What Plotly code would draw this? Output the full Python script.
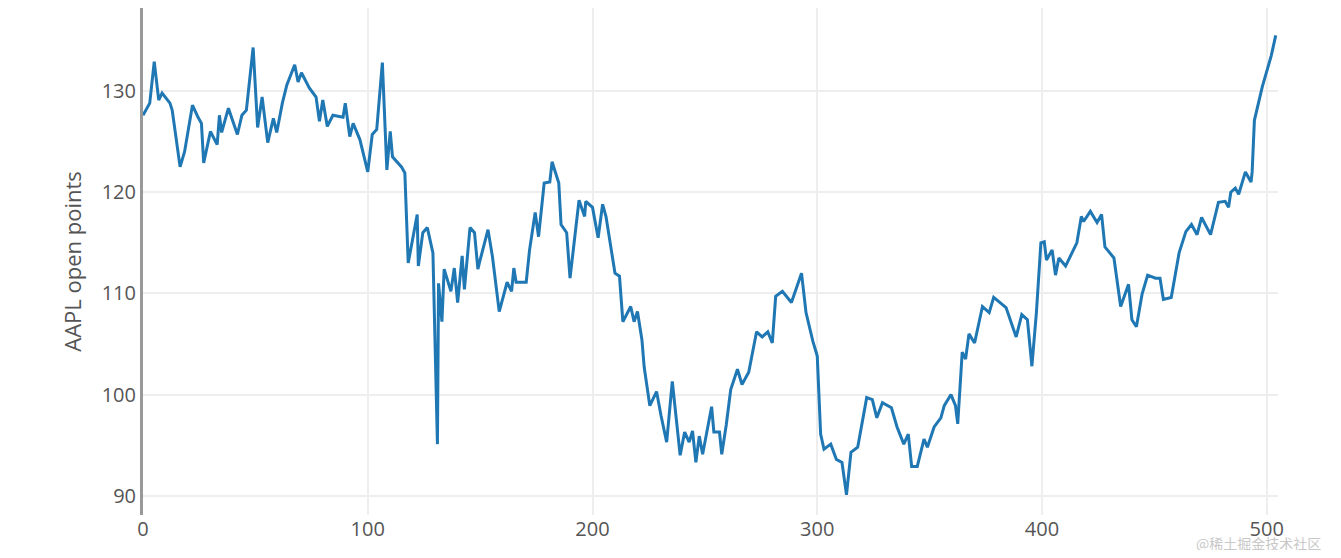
import plotly.graph_objects as go

# day index and AAPL open value
day = [0, 3, 5, 7, 8.5, 12, 13, 16.5, 18.5, 22, 24.5, 26, 27, 28.5, 30, 33, 34, 35, 38, 42,
       44, 46, 49, 51, 53, 55.5, 58, 59.5, 62, 64, 67.5, 69, 70.5, 74, 77, 78.5, 80, 82, 84.5, 89,
       90, 92, 93.5, 96.5, 100, 102, 104, 106.5, 108.5, 110, 111, 115, 116.5, 118, 122, 122.5, 124.5, 126.5, 129, 131,
       131.5, 133, 134, 137, 138.5, 140, 142, 143, 145.5, 147.5, 149, 150, 153.5, 155.5, 158.5, 162, 164, 165, 166, 170.5,
       172, 174.5, 176, 178.5, 181, 182, 185, 186, 188.5, 190, 194, 196.5, 197, 200, 202.5, 204.5, 206, 210, 212, 213.5,
       217, 218.5, 220, 222, 223, 225.5, 228.5, 230.5, 233, 235.5, 239, 241, 243, 244.5, 246, 247.5, 249, 253, 254, 256.5,
       257.5, 259.5, 261.5, 264.5, 266.5, 269.5, 273, 275.5, 278, 280, 281.5, 284.5, 288.5, 293, 295, 298, 300, 301.5, 303, 306,
       308.5, 311, 313, 315, 318, 322, 324.5, 326.5, 329, 333, 335.5, 338.5, 340.5, 342, 344.5, 347.5, 349, 352, 355, 356.5,
       359.5, 361.5, 362.5, 364.5, 366, 367.5, 370, 373.5, 376.5, 378.5, 384, 388.5, 391, 393.5, 395.5, 397.5, 399.5, 401, 402, 404.5,
       406, 407.5, 410.5, 415.5, 417.5, 418.5, 421.5, 424.5, 426.5, 428, 432, 435, 437.5, 438.5, 440, 442, 444.5, 447, 450.5, 452.5,
       454, 457.5, 461, 464, 466.5, 469, 471, 475, 478.5, 481.5, 483, 484, 486, 487.5, 490.5, 493, 493.5, 494.5, 498, 499.5,
       502, 504]
open_price = [127.6, 128.8, 132.9, 129.1, 129.8, 128.8, 128.1, 122.5, 124.0, 128.6, 127.4, 126.8, 122.9, 124.5, 126.0, 124.7, 127.6, 125.9, 128.3, 125.7,
              127.6, 128.1, 134.3, 126.4, 129.4, 124.9, 127.3, 125.9, 128.8, 130.6, 132.6, 130.9, 131.8, 130.3, 129.4, 127.0, 129.1, 126.5, 127.6, 127.4,
              128.8, 125.5, 126.8, 125.2, 122.0, 125.7, 126.2, 132.8, 122.2, 126.0, 123.5, 122.5, 121.9, 113.0, 117.8, 112.7, 116.0, 116.5, 114.0, 95.1,
              111.0, 107.2, 112.4, 110.2, 112.5, 109.1, 113.7, 110.4, 116.5, 116.0, 112.4, 113.3, 116.3, 113.6, 108.2, 111.1, 110.2, 112.5, 111.1, 111.1,
              114.3, 118.0, 115.6, 120.9, 121.0, 123.0, 120.9, 116.8, 116.0, 111.5, 119.2, 117.6, 119.1, 118.5, 115.5, 118.8, 117.6, 112.0, 111.7, 107.2,
              108.7, 107.2, 108.2, 105.4, 102.7, 98.9, 100.3, 97.9, 95.3, 101.3, 94.0, 96.3, 95.3, 96.4, 93.3, 95.9, 94.1, 98.8, 96.3, 96.3,
              94.1, 97.0, 100.5, 102.5, 101.0, 102.2, 106.2, 105.7, 106.2, 105.1, 109.7, 110.2, 109.1, 112.0, 108.1, 105.3, 103.8, 96.1, 94.6, 95.1,
              93.6, 93.3, 90.1, 94.3, 94.8, 99.7, 99.5, 97.7, 99.2, 98.7, 96.8, 95.1, 96.1, 92.9, 92.9, 95.6, 94.8, 96.8, 97.7, 98.9,
              100.0, 98.9, 97.1, 104.2, 103.5, 106.0, 105.1, 108.7, 108.1, 109.6, 108.6, 105.7, 107.9, 107.4, 102.8, 108.1, 115.0, 115.1, 113.3, 114.3,
              111.8, 113.5, 112.7, 115.0, 117.6, 117.1, 118.1, 117.0, 117.8, 114.6, 113.5, 108.7, 110.2, 110.9, 107.4, 106.7, 109.9, 111.8, 111.5, 111.5,
              109.4, 109.6, 114.0, 116.1, 116.8, 115.8, 117.5, 115.8, 119.0, 119.1, 118.5, 120.0, 120.4, 119.8, 122.0, 121.0, 122.0, 127.1, 130.4, 131.6,
              133.5, 135.5]

x_ticks = [0, 100, 200, 300, 400, 500]
y_ticks = [90, 100, 110, 120, 130]

fig = go.Figure()
fig.add_trace(go.Scatter(
    x=day, y=open_price, mode='lines',
    line=dict(color='#1f77b4', width=3),
    showlegend=False,
    cliponaxis=False
))

fig.add_annotation(
    text="@稀土掘金技术社区", xref='paper', yref='paper', x=1.04, y=-0.055,
    xanchor='right', yanchor='middle', showarrow=False,
    font=dict(family="Noto Sans CJK SC", size=14, color='#c8c8c8')
)

fig.update_layout(
    width=1325, height=542,
    margin=dict(l=135, r=55, t=0, b=35),
    plot_bgcolor='white', paper_bgcolor='white',
    font=dict(family="Open Sans", color='#555'),
    xaxis=dict(range=[0, 505], tickvals=x_ticks, showgrid=True, gridcolor='#eeeeee',
               gridwidth=2, zeroline=False, tickfont=dict(size=20)),
    yaxis=dict(range=[88.1, 138.2], tickvals=y_ticks, showgrid=True, gridcolor='#eeeeee',
               gridwidth=2, zeroline=False, showline=True, linecolor='#999999', linewidth=3,
               tickfont=dict(size=20), ticklen=0,
               title=dict(text="AAPL open points", font=dict(size=22), standoff=14)),
)

fig.write_html("out.html")
